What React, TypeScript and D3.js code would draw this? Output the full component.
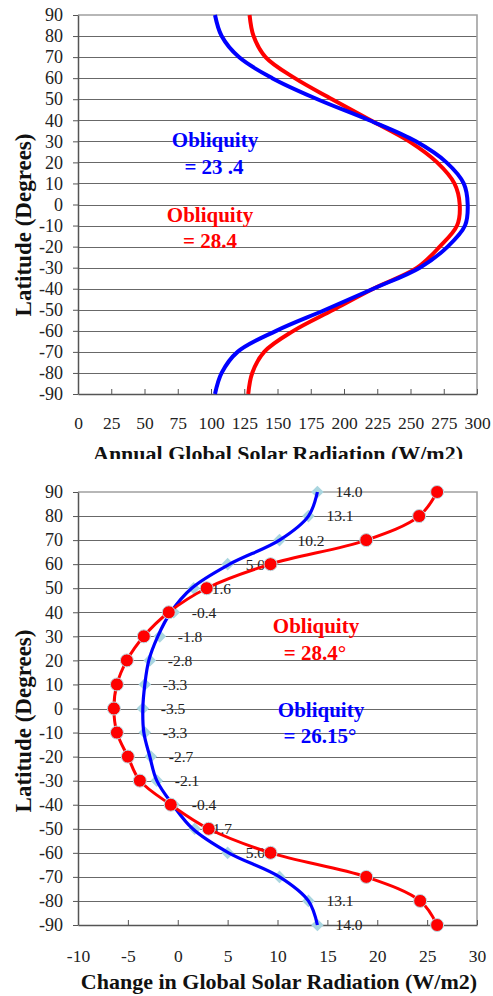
import { useEffect, useRef } from 'react';
import * as d3 from 'd3';

const FONT = '"Liberation Serif", "Times New Roman", serif';

// latitudes, north to south
const latitudes = [90, 80, 70, 60, 50, 40, 30, 20, 10, 0, -10, -20, -30, -40, -50, -60, -70, -80, -90];

// top panel: annual global solar radiation (W/m2)
const annualObliquity234 = [103, 108, 121, 146, 180, 219, 254, 277, 290, 293, 291, 278, 257, 222, 186, 149, 120, 108, 103];
const annualObliquity284 = [129, 132, 141, 163, 191, 220, 249, 270, 283, 287, 285, 272, 255, 222, 192, 162, 140, 131, 128];
const topXTicks = [0, 25, 50, 75, 100, 125, 150, 175, 200, 225, 250, 275, 300];

// bottom panel: change in global solar radiation (W/m2)
const changeObliquity2615 = [14.0, 13.1, 10.2, 5.0, 1.6, -0.4, -1.8, -2.8, -3.3, -3.5, -3.3, -2.7, -2.1, -0.4, 1.7, 5.0, 10.2, 13.1, 14.0];
// smoothed blue curve drawn over the diamonds
const trendObliquity2615 = [14.0, 13.1, 10.2, 5.2, 1.4, -0.7, -2.0, -2.9, -3.3, -3.5, -3.4, -2.8, -2.1, -0.5, 1.5, 5.1, 10.2, 13.1, 14.0];
const changeObliquity284 = [26.0, 24.2, 18.9, 9.3, 2.9, -0.9, -3.4, -5.1, -6.1, -6.4, -6.1, -5.0, -3.8, -0.7, 3.1, 9.3, 18.9, 24.3, 26.0];
const hiddenLabelLats = [-70];
const bottomXTicks = [-10, -5, 0, 5, 10, 15, 20, 25, 30];

type G = d3.Selection<SVGGElement, unknown, null, undefined>;

function drawFrame(g: G, x: d3.ScaleLinear<number, number>, y: d3.ScaleLinear<number, number>, xTicks: number[], xPad: number) {
    const [x0, x1] = x.range();
    const [yb, yt] = y.range();

    // horizontal gridlines
    g.append('g')
        .selectAll('line')
        .data(latitudes.filter((d) => d !== 90 && d !== -90))
        .join('line')
        .attr('x1', x0)
        .attr('x2', x1)
        .attr('y1', (d) => Math.round(y(d)) + 0.5)
        .attr('y2', (d) => Math.round(y(d)) + 0.5)
        .attr('stroke', '#686868')
        .attr('stroke-width', 1);

    // top and right border
    g.append('path')
        .attr('d', `M${x0},${yt}H${x1}V${yb}`)
        .attr('fill', 'none')
        .attr('stroke', '#a0a0a0')
        .attr('stroke-width', 1.6);

    // y axis
    const ya = g
        .append('g')
        .attr('transform', `translate(${x0},0)`)
        .call(
            d3
                .axisLeft(y)
                .tickValues(latitudes)
                .tickFormat((d) => String(d))
                .tickSize(5)
                .tickSizeOuter(0)
                .tickPadding(10)
        );
    ya.attr('font-family', FONT).attr('font-size', 18);
    ya.select('.domain').attr('stroke', '#555').attr('stroke-width', 1.5);
    ya.selectAll('.tick line').attr('stroke', '#555');
    ya.selectAll('text').attr('fill', '#222');

    // x axis, ticks pointing inside
    const xa = g
        .append('g')
        .attr('transform', `translate(0,${yb})`)
        .call(
            d3
                .axisBottom(x)
                .tickValues(xTicks)
                .tickFormat((d) => String(d))
                .tickSizeInner(-5)
                .tickSizeOuter(0)
                .tickPadding(xPad)
        );
    xa.attr('font-family', FONT).attr('font-size', 17.5);
    xa.select('.domain').attr('stroke', '#555').attr('stroke-width', 1.5);
    xa.selectAll('.tick line').attr('stroke', '#555');
    xa.selectAll('text').attr('fill', '#222');
}

function addLabel(g: G, text: string, cx: number, by: number, color: string, size = 21) {
    g.append('text')
        .attr('x', cx)
        .attr('y', by)
        .attr('text-anchor', 'middle')
        .attr('font-family', FONT)
        .attr('font-weight', 'bold')
        .attr('font-size', size)
        .attr('fill', color)
        .text(text);
}

function addYTitle(g: G, cy: number) {
    g.append('text')
        .attr('transform', `translate(31,${cy}) rotate(-90)`)
        .attr('text-anchor', 'middle')
        .attr('font-family', FONT)
        .attr('font-weight', 'bold')
        .attr('font-size', 23)
        .attr('fill', '#111')
        .text('Latitude (Degrees)');
}

export default function App() {
    const svgRef = useRef<SVGSVGElement>(null);

    useEffect(() => {
        const svg = d3.select(svgRef.current);
        svg.selectAll('*').remove();

        svg.append('defs')
            .append('clipPath')
            .attr('id', 'topClip')
            .append('rect')
            .attr('x', 0)
            .attr('y', 0)
            .attr('width', 493)
            .attr('height', 459);

        // ---------- top panel ----------
        const top = svg.append('g') as unknown as G;
        const xTop = d3.scaleLinear().domain([0, 300]).range([78, 477]);
        const yTop = d3.scaleLinear().domain([-90, 90]).range([394, 15]);

        drawFrame(top, xTop, yTop, topXTicks, 23);

        const lineTop = (vals: number[]) =>
            d3
                .line<number>()
                .x((d) => xTop(d))
                .y((_, i) => yTop(latitudes[i]))
                .curve(d3.curveCatmullRom)(vals);

        top.append('path')
            .attr('d', lineTop(annualObliquity284))
            .attr('fill', 'none')
            .attr('stroke', '#ff0000')
            .attr('stroke-width', 4);
        top.append('path')
            .attr('d', lineTop(annualObliquity234))
            .attr('fill', 'none')
            .attr('stroke', '#0000ff')
            .attr('stroke-width', 4);

        addLabel(top, 'Obliquity', 215, 147, '#0000ff');
        addLabel(top, '= 23 .4', 214, 174, '#0000ff');
        addLabel(top, 'Obliquity', 210, 222, '#ff0000');
        addLabel(top, '= 28.4', 210, 248, '#ff0000');

        addYTitle(top, 225);
        top.append('text')
            .attr('clip-path', 'url(#topClip)')
            .attr('x', 278)
            .attr('y', 461)
            .attr('text-anchor', 'middle')
            .attr('font-family', FONT)
            .attr('font-weight', 'bold')
            .attr('font-size', 22)
            .attr('fill', '#111')
            .text('Annual Global Solar Radiation (W/m2)');

        // ---------- bottom panel ----------
        const bot = svg.append('g') as unknown as G;
        const xBot = d3.scaleLinear().domain([-10, 30]).range([78, 477]);
        const yBot = d3.scaleLinear().domain([-90, 90]).range([925, 492]);

        drawFrame(bot, xBot, yBot, bottomXTicks, 25);

        const lineBot = (vals: number[]) =>
            d3
                .line<number>()
                .x((d) => xBot(d))
                .y((_, i) => yBot(latitudes[i]))
                .curve(d3.curveCatmullRom)(vals);

        const diamond = d3.symbol().type(d3.symbolSquare).size(80);

        // obliquity 26.15: diamonds, smooth line, value labels
        bot.append('g')
            .selectAll('path')
            .data(changeObliquity2615)
            .join('path')
            .attr('d', diamond())
            .attr('transform', (d, i) => `translate(${xBot(d)},${yBot(latitudes[i])}) rotate(45)`)
            .attr('fill', '#a9d5df');

        bot.append('path')
            .attr('d', lineBot(trendObliquity2615))
            .attr('fill', 'none')
            .attr('stroke', '#0000ff')
            .attr('stroke-width', 3.2);

        bot.append('g')
            .selectAll('text')
            .data(changeObliquity2615.map((v, i) => ({ v, lat: latitudes[i] })).filter((d) => !hiddenLabelLats.includes(d.lat)))
            .join('text')
            .attr('x', (d) => xBot(d.v) + 18)
            .attr('y', (d) => yBot(d.lat))
            .attr('dy', '0.35em')
            .attr('font-family', FONT)
            .attr('font-size', 15.5)
            .attr('fill', '#222')
            .text((d) => d.v.toFixed(1));

        // obliquity 28.4: red line with dots
        bot.append('path')
            .attr('d', lineBot(changeObliquity284))
            .attr('fill', 'none')
            .attr('stroke', '#ff0000')
            .attr('stroke-width', 3);

        bot.append('g')
            .selectAll('circle')
            .data(changeObliquity284)
            .join('circle')
            .attr('cx', (d) => xBot(d))
            .attr('cy', (_, i) => yBot(latitudes[i]))
            .attr('r', 6.5)
            .attr('fill', '#ff0000')
            .attr('stroke', '#b9dde6')
            .attr('stroke-width', 1);

        addLabel(bot, 'Obliquity', 316, 633, '#ff0000');
        addLabel(bot, '= 28.4°', 315, 660, '#ff0000');
        addLabel(bot, 'Obliquity', 321, 717, '#0000ff');
        addLabel(bot, '= 26.15°', 320, 743, '#0000ff');

        addYTitle(bot, 721);
        bot.append('text')
            .attr('x', 279)
            .attr('y', 989)
            .attr('text-anchor', 'middle')
            .attr('font-family', FONT)
            .attr('font-weight', 'bold')
            .attr('font-size', 22)
            .attr('fill', '#111')
            .text('Change in Global Solar Radiation (W/m2)');
    }, []);

    return <svg ref={svgRef} width={493} height={996} style={{ position: 'absolute', left: 0, top: 0 }} />;
}
